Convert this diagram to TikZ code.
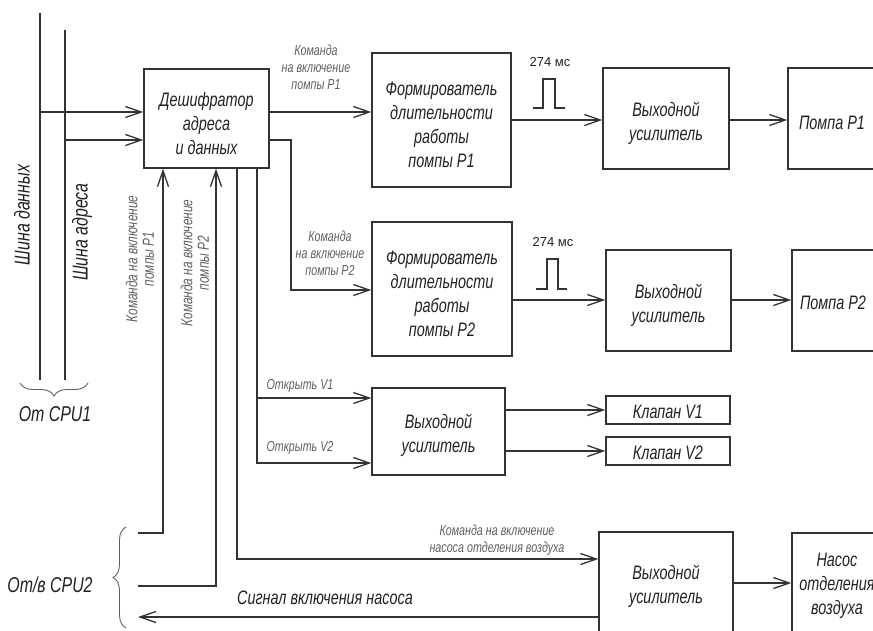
\documentclass[tikz,border=0pt]{standalone}
\usepackage{fontspec}
\setmainfont{Liberation Sans}
\newfontfamily\gostfont{Liberation Sans}[FakeStretch=0.74]
\usetikzlibrary{arrows.meta,decorations.pathreplacing}
\definecolor{lc}{HTML}{333333}
\definecolor{tc}{HTML}{222222}
\definecolor{gc}{HTML}{606060}
\tikzset{
  box/.style={draw=lc, line width=1.3pt, rectangle, inner sep=0pt},
  boxtext/.style={text=tc, align=center, inner sep=0pt, font=\gostfont\itshape\fontsize{19.5}{24}\selectfont},
  lbl/.style={text=gc, align=center, inner sep=0pt, font=\gostfont\itshape\fontsize{14.5}{17}\selectfont},
  rlbl/.style={text=gc, align=center, inner sep=0pt, rotate=90, font=\gostfont\itshape\fontsize{16}{16.5}\selectfont},
  big/.style={text=tc, align=center, inner sep=0pt, font=\gostfont\itshape\fontsize{21.5}{24}\selectfont},
  ms/.style={text=tc, inner sep=0pt, font=\fontsize{13}{15}\selectfont},
  wire/.style={draw=lc, line width=1.3pt},
  pulse/.style={draw=lc, line width=1.1pt},
  arr/.style={wire, -{Straight Barb[length=16pt,width=11pt]}},
  brc/.style={draw=gc, line width=0.9pt, decorate, decoration={brace, amplitude=13pt}},
}
\begin{document}
\begin{tikzpicture}[x=1pt,y=-1pt]
\useasboundingbox (0,0) rectangle (873,630);
\clip (0,0) rectangle (873,630);

% boxes
\node[box, minimum width=125pt, minimum height=99pt,
  label={[boxtext,yshift=-5pt]center:{Дешифратор\\адреса\\и данных}}] (dec) at (206.5,118.5) {};
\node[box, minimum width=139pt, minimum height=134pt,
  label={[boxtext,yshift=-5pt]center:{Формирователь\\длительности\\работы\\помпы P1}}] (F1) at (441.5,120) {};
\node[box, minimum width=126pt, minimum height=101pt,
  label={[boxtext,yshift=-5pt]center:{Выходной\\усилитель}}] (A1) at (666,118.5) {};
\node[box, minimum width=112pt, minimum height=101pt] (P1) at (844,118.5) {};
\node[boxtext] (P1t) at (832,123) {Помпа P1};

\node[box, minimum width=140pt, minimum height=134pt,
  label={[boxtext,yshift=-5pt]center:{Формирователь\\длительности\\работы\\помпы P2}}] (F2) at (442,289) {};
\node[box, minimum width=125pt, minimum height=101pt,
  label={[boxtext,yshift=-5pt]center:{Выходной\\усилитель}}] (A2) at (668.5,300.5) {};
\node[box, minimum width=112pt, minimum height=101pt] (P2) at (848,300.5) {};
\node[boxtext] (P2t) at (833,303) {Помпа P2};

\node[box, minimum width=133pt, minimum height=87pt,
  label={[boxtext,yshift=-4pt]center:{Выходной\\усилитель}}] (AV) at (438.5,431.5) {};
\node[box, minimum width=124pt, minimum height=28pt,
  label={[boxtext,yshift=-2pt]center:{Клапан V1}}] (V1) at (668,410) {};
\node[box, minimum width=124pt, minimum height=28pt,
  label={[boxtext,yshift=-2pt]center:{Клапан V2}}] (V2) at (668,451) {};

\node[box, minimum width=134pt, minimum height=102pt,
  label={[boxtext,yshift=-3pt]center:{Выходной\\усилитель}}] (A3) at (666,583) {};
\node[box, minimum width=112pt, minimum height=101pt] (N) at (848,583.5) {};
\node[boxtext] (Nt) at (837,586) {Насос\\отделения\\воздуха};

% buses
\coordinate (dbt) at (40,13);
\coordinate (dbb) at (40,380);
\coordinate (abt) at (65,30);
\coordinate (abb) at (65,380);
\draw[wire] (dbt) -- (dbb);
\draw[wire] (abt) -- (abb);
\coordinate (d1) at (40,112);
\coordinate (a1) at (65,140);
\draw[arr] (d1) -- (d1 -| dec.west);
\draw[arr] (a1) -- (a1 -| dec.west);

% decoder outputs
\draw[arr] (dec.east |- d1) -- (F1.west |- d1);
\coordinate (k2) at (291,140);
\coordinate (k2b) at (291,290);
\draw[arr] (dec.east |- k2) -- (k2) -- (k2b) -- (k2b -| F2.west);

% row 1 / row 2 chains
\draw[arr] (F1.east) -- (F1.east -| A1.west);
\draw[arr] (A1.east |- F1.east) -- (P1.west |- F1.east);
\coordinate (r2) at (512,300);
\draw[arr] (r2) -- (r2 -| A2.west);
\draw[arr] (A2.east |- r2) -- (P2.west |- r2);

% pulses
\draw[pulse] (533,108) -- (543,108) -- (543,79) -- (555,79) -- (555,108) -- (565,108);
\node[ms] (t1) at (550,62) {274 мс};
\draw[pulse] (536,289) -- (547,289) -- (547,259) -- (558,259) -- (558,289) -- (567,289);
\node[ms] (t2) at (553,242) {274 мс};

% decoder bottom lines
\coordinate (u1) at (138,533);
\coordinate (u1c) at (163,533);
\draw[arr] (u1) -- (u1c) -- (u1c |- dec.south);
\coordinate (u2) at (138,586);
\coordinate (u2c) at (216,586);
\draw[arr] (u2) -- (u2c) -- (u2c |- dec.south);
\coordinate (o3) at (237,559);
\draw[arr] (o3 |- dec.south) -- (o3) -- (o3 -| A3.west);
\coordinate (o4a) at (257,398);
\coordinate (o4b) at (257,463);
\draw[arr] (o4a |- dec.south) -- (o4b) -- (o4b -| AV.west);
\draw[arr] (o4a) -- (o4a -| AV.west);

% valves
\draw[arr] (AV.east |- V1.west) -- (V1.west);
\draw[arr] (AV.east |- V2.west) -- (V2.west);

% air pump
\coordinate (np) at (733,583);
\draw[arr] (np) -- (np -| N.west);
\coordinate (sg) at (138,617);
\draw[arr] (A3.west |- sg) -- (sg);

% braces
\draw[brc] (88,383) -- (20,383);
\draw[brc] (126,628) -- (126,527);

% labels
\node[big, rotate=90] (lbd) at (22,215) {Шина данных};
\node[big, rotate=90] (lba) at (82,232) {Шина адреса};
\node[big] (cpu1) at (55,414) {От CPU1};
\node[big] (cpu2) at (50,585) {От/в CPU2};
\node[lbl] (l1) at (316,67) {Команда\\на включение\\помпы P1};
\node[lbl] (l2) at (330,253) {Команда\\на включение\\помпы P2};
\node[rlbl] (l3) at (140,259) {Команда на включение\\помпы P1};
\node[rlbl] (l4) at (195,263) {Команда на включение\\помпы P2};
\node[lbl] (l5) at (300,386) {Открыть V1};
\node[lbl] (l6) at (300,448) {Открыть V2};
\node[lbl] (l7) at (497,540) {Команда на включение\\насоса отделения воздуха};
\node[boxtext] (l8) at (325,598) {Сигнал включения насоса};
\end{tikzpicture}
\end{document}
